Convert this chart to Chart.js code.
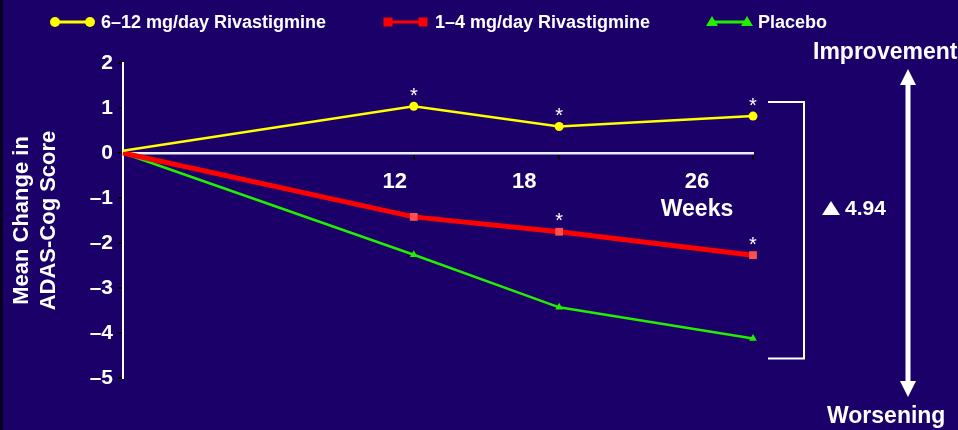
<!DOCTYPE html>
<html>
<head>
<meta charset="utf-8">
<style>
  html, body { margin: 0; padding: 0; background: #1a0068; }
  #wrap { width: 958px; height: 430px; position: relative; }
  canvas { display: block; }
</style>
<script src="https://cdn.jsdelivr.net/npm/chart.js@4.4.1/dist/chart.umd.min.js"></script>
</head>
<body>
<div id="wrap"><canvas id="chart" width="958" height="430"></canvas></div>
<script>
// Study visits (weeks) and mean change in ADAS-Cog score per arm
const weeks = [0, 12, 18, 26];
const highDose = [0.05, 1.04, 0.59, 0.82];
const lowDose = [0, -1.42, -1.75, -2.27];
const placebo = [0, -2.26, -3.43, -4.12];
// visits marked as significant (*)
const highDoseSig = [false, true, true, true];
const lowDoseSig = [false, false, true, true];
const weekTicks = [12, 18, 26];
const seriesNames = ['6–12 mg/day Rivastigmine', '1–4 mg/day Rivastigmine', 'Placebo'];
const difference = 4.94;

const FONT = '"Liberation Sans", Arial, Helvetica, sans-serif';
const BG = '#1a0068';
const YELLOW = '#ffff00';
const RED = '#ff0000';
const RED_MARK = '#ff5050';
const GREEN = '#22ee00';

const toPoints = vals => weeks.map((w, i) => ({ x: w, y: vals[i] }));

const decor = {
  id: 'decor',
  beforeDraw(chart) {
    const ctx = chart.ctx;
    ctx.save();
    ctx.fillStyle = BG;
    ctx.fillRect(0, 0, chart.width, chart.height);
    ctx.fillStyle = '#07001e';
    ctx.fillRect(0, 0, 3, chart.height);
    ctx.restore();
  },
  afterDatasetsDraw(chart) {
    const ctx = chart.ctx;
    const xs = chart.scales.x, ys = chart.scales.y;
    ctx.save();
    ctx.fillStyle = '#ffffff';
    ctx.strokeStyle = '#ffffff';

    // significance asterisks above the points
    ctx.font = '20px ' + FONT;
    ctx.textAlign = 'center';
    ctx.textBaseline = 'middle';
    [[highDose, highDoseSig], [lowDose, lowDoseSig]].forEach(([vals, sig]) => {
      vals.forEach((v, i) => {
        if (sig[i]) ctx.fillText('*', xs.getPixelForValue(weeks[i]), ys.getPixelForValue(v) - 10);
      });
    });

    // week labels under the axis line
    const y0 = ys.getPixelForValue(0);
    const labelShift = [-19, -35, -56];
    ctx.font = 'bold 22px ' + FONT;
    weekTicks.forEach((w, i) => {
      ctx.fillText(String(w), xs.getPixelForValue(w) + labelShift[i], y0 + 29);
    });
    const lastX = xs.getPixelForValue(weekTicks[weekTicks.length - 1]) + labelShift[labelShift.length - 1];
    ctx.font = 'bold 23px ' + FONT;
    ctx.fillText('Weeks', lastX, y0 + 57);

    // bracket spanning the week-26 difference
    const last = weeks.length - 1;
    const bx0 = xs.right + 15, bx1 = xs.right + 51;
    const bTop = ys.getPixelForValue(highDose[last]) - 14;
    const bBot = ys.getPixelForValue(placebo[last]) + 20;
    ctx.lineWidth = 2;
    ctx.beginPath();
    ctx.moveTo(bx0, bTop); ctx.lineTo(bx1, bTop); ctx.lineTo(bx1, bBot); ctx.lineTo(bx0, bBot);
    ctx.stroke();

    // delta label
    const dy = 208;
    ctx.beginPath();
    ctx.moveTo(822, dy + 7); ctx.lineTo(840, dy + 7); ctx.lineTo(831, dy - 7); ctx.closePath();
    ctx.fill();
    ctx.textAlign = 'left';
    ctx.font = 'bold 21px ' + FONT;
    ctx.fillText(difference.toFixed(2), 845, dy + 1);

    // improvement / worsening arrow
    const ax = 908, aTop = 69, aBot = 397;
    ctx.lineWidth = 5;
    ctx.beginPath();
    ctx.moveTo(ax, aTop + 12); ctx.lineTo(ax, aBot - 12);
    ctx.stroke();
    ctx.beginPath();
    ctx.moveTo(ax, aTop); ctx.lineTo(ax - 8, aTop + 16); ctx.lineTo(ax + 8, aTop + 16); ctx.closePath();
    ctx.fill();
    ctx.beginPath();
    ctx.moveTo(ax, aBot); ctx.lineTo(ax - 8, aBot - 16); ctx.lineTo(ax + 8, aBot - 16); ctx.closePath();
    ctx.fill();
    ctx.font = 'bold 23px ' + FONT;
    ctx.fillText('Improvement', 813, 53);
    ctx.fillText('Worsening', 827, 417);

    ctx.restore();
  },
  afterDraw(chart) {
    // legend row
    const ctx = chart.ctx;
    ctx.save();
    const ly = 22;
    const items = [
      { x: 55, text: 101, color: YELLOW, mark: 'circle', fill: YELLOW },
      { x: 388, text: 435, color: RED, mark: 'rect', fill: RED },
      { x: 712, text: 758, color: GREEN, mark: 'triangle', fill: GREEN }
    ];
    items.forEach((it, i) => {
      ctx.strokeStyle = it.color;
      ctx.lineWidth = 3;
      ctx.beginPath();
      ctx.moveTo(it.x, ly); ctx.lineTo(it.x + 35, ly);
      ctx.stroke();
      ctx.fillStyle = it.fill;
      [it.x, it.x + 35].forEach(px => {
        ctx.beginPath();
        if (it.mark === 'circle') ctx.arc(px, ly, 5, 0, Math.PI * 2);
        else if (it.mark === 'rect') ctx.rect(px - 4.5, ly - 4.5, 9, 9);
        else { ctx.moveTo(px, ly - 6); ctx.lineTo(px - 6, ly + 4); ctx.lineTo(px + 6, ly + 4); ctx.closePath(); }
        ctx.fill();
      });
      ctx.fillStyle = '#ffffff';
      ctx.font = 'bold 18px ' + FONT;
      ctx.textAlign = 'left';
      ctx.textBaseline = 'middle';
      ctx.fillText(seriesNames[i], it.text, ly + 1);
    });
    ctx.restore();
  }
};

new Chart(document.getElementById('chart'), {
  type: 'line',
  data: {
    datasets: [
      {
        label: seriesNames[0], data: toPoints(highDose),
        borderColor: YELLOW, backgroundColor: YELLOW, borderWidth: 2.5,
        pointStyle: 'circle', pointRadius: [0, 4.5, 4.5, 4.5], pointBorderWidth: 0,
        clip: false, order: 1
      },
      {
        label: seriesNames[1], data: toPoints(lowDose),
        borderColor: RED, backgroundColor: RED_MARK, borderWidth: 5,
        pointStyle: 'rect', pointRadius: [0, 5.5, 5.5, 5.5], pointBorderWidth: 0,
        clip: false, order: 2
      },
      {
        label: seriesNames[2], data: toPoints(placebo),
        borderColor: GREEN, backgroundColor: GREEN, borderWidth: 2.5,
        pointStyle: 'triangle', pointRadius: [0, 4.5, 4.5, 4.5], pointBorderWidth: 0,
        clip: false, order: 3
      }
    ]
  },
  options: {
    responsive: false,
    animation: false,
    events: [],
    layout: { padding: { top: 63, right: 205, bottom: 52, left: 0 } },
    plugins: { legend: { display: false }, tooltip: { enabled: false } },
    scales: {
      x: {
        type: 'linear',
        position: { y: 0 },
        min: 0, max: 26,
        afterBuildTicks: s => { s.ticks = weekTicks.map(v => ({ value: v })); },
        ticks: { display: false },
        grid: { drawOnChartArea: false, drawTicks: true, tickLength: 5, color: '#000000', lineWidth: 2 },
        border: { color: '#ececf4', width: 2.5 }
      },
      y: {
        position: 'left',
        min: -5, max: 2,
        afterFit: s => { s.width = 123; },
        ticks: {
          stepSize: 1,
          color: '#ffffff',
          padding: 5,
          font: { family: FONT, size: 21, weight: 'bold' },
          callback: v => (v < 0 ? '\u2013' + Math.abs(v) : String(v))
        },
        grid: { drawOnChartArea: false, drawTicks: true, tickLength: 5, color: '#000000', lineWidth: 2 },
        border: { color: '#ffffff', width: 2 },
        title: {
          display: true,
          text: ['Mean Change in', 'ADAS-Cog Score'],
          color: '#ffffff',
          font: { family: FONT, size: 22, weight: 'bold', lineHeight: 1.25 },
          padding: { top: 8, bottom: 0 }
        }
      }
    }
  },
  plugins: [decor]
});
</script>
</body>
</html>
